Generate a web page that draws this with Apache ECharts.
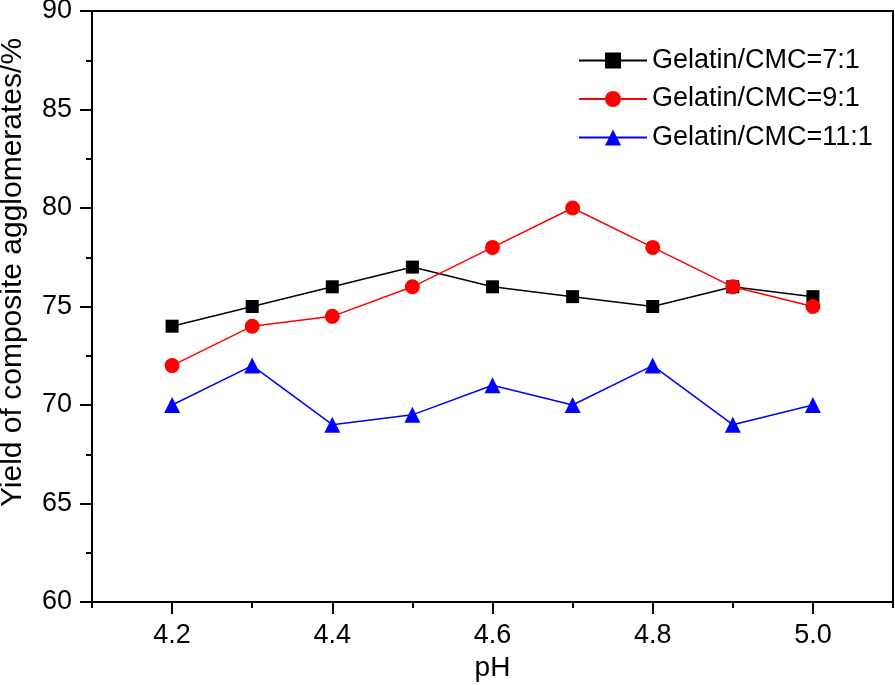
<!DOCTYPE html>
<html>
<head>
<meta charset="utf-8">
<script src="https://cdn.jsdelivr.net/npm/echarts@6/dist/echarts.min.js"></script>
<style>html,body{margin:0;padding:0;background:#fff}#c{width:895px;height:685px}</style>
</head>
<body>
<div id="c"></div>
<script>
const phValues = [4.2, 4.3, 4.4, 4.5, 4.6, 4.7, 4.8, 4.9, 5.0];
const ratio7 = [74, 75, 76, 77, 76, 75.5, 75, 76, 75.5];
const ratio9 = [72, 74, 74.5, 76, 78, 80, 78, 76, 75];
const ratio11 = [70, 72, 69, 69.5, 71, 70, 72, 69, 70];
const seriesNames = ['Gelatin/CMC=7:1', 'Gelatin/CMC=9:1', 'Gelatin/CMC=11:1'];
const xMajorTicks = [4.2, 4.4, 4.6, 4.8, 5.0];
const xMinorTicks = [4.1, 4.3, 4.5, 4.7, 4.9, 5.1];

const FONT = '"Liberation Sans", Arial, sans-serif';
const pairs = arr => phValues.map((x, i) => [x, arr[i]]);

const chart = echarts.init(document.getElementById('c'));
chart.setOption({
  animation: false,
  backgroundColor: '#fff',
  grid: { left: 92, right: 2, top: 11, bottom: 83, show: true, borderColor: '#000', borderWidth: 2,
    outerBoundsMode: 'none', containLabel: false },
  legend: {
    orient: 'vertical', left: 573, top: 42,
    itemWidth: 68, itemHeight: 20, itemGap: 11.5,
    textStyle: { fontFamily: FONT, fontSize: 27, color: '#000', lineHeight: 27 },
    data: seriesNames
  },
  xAxis: [{
    type: 'value', min: 4.1, max: 5.1,
    name: 'pH', nameLocation: 'middle', nameGap: 50,
    nameTextStyle: { fontFamily: FONT, fontSize: 28, color: '#000' },
    axisLine: { lineStyle: { color: '#000', width: 2 } },
    axisTick: { customValues: xMajorTicks, length: 12, lineStyle: { color: '#000', width: 2 } },
    axisLabel: { customValues: xMajorTicks, margin: 20, fontFamily: FONT, fontSize: 27, color: '#000',
      formatter: v => v.toFixed(1) },
    splitLine: { show: false }
  }, {
    type: 'value', min: 4.1, max: 5.1, position: 'bottom',
    axisLine: { show: false },
    axisTick: { customValues: xMinorTicks, length: 6, lineStyle: { color: '#000', width: 2 } },
    axisLabel: { show: false },
    splitLine: { show: false }
  }],
  yAxis: {
    type: 'value', min: 60, max: 90, interval: 5,
    name: 'Yield of composite agglomerates/%', nameLocation: 'middle', nameGap: 64,
    nameTextStyle: { fontFamily: FONT, fontSize: 30, color: '#000', padding: [0, 0, 0, 68] },
    axisLine: { show: true, lineStyle: { color: '#000', width: 2 } },
    axisTick: { show: true, length: 12, lineStyle: { color: '#000', width: 2 } },
    minorTick: { show: true, splitNumber: 2, length: 6, lineStyle: { color: '#000', width: 2 } },
    axisLabel: { margin: 20, fontFamily: FONT, fontSize: 27, color: '#000' },
    splitLine: { show: false }
  },
  series: [
    { name: seriesNames[0], type: 'line', data: pairs(ratio7), symbol: 'rect', symbolSize: 13,
      itemStyle: { color: '#000' }, lineStyle: { color: '#000', width: 1.5 } },
    { name: seriesNames[1], type: 'line', data: pairs(ratio9), symbol: 'circle', symbolSize: 15,
      itemStyle: { color: '#ff0000' }, lineStyle: { color: '#ff0000', width: 1.5 } },
    { name: seriesNames[2], type: 'line', data: pairs(ratio11), symbol: 'triangle', symbolSize: 16,
      itemStyle: { color: '#0000ff' }, lineStyle: { color: '#0000ff', width: 1.5 } }
  ]
});
</script>
</body>
</html>
